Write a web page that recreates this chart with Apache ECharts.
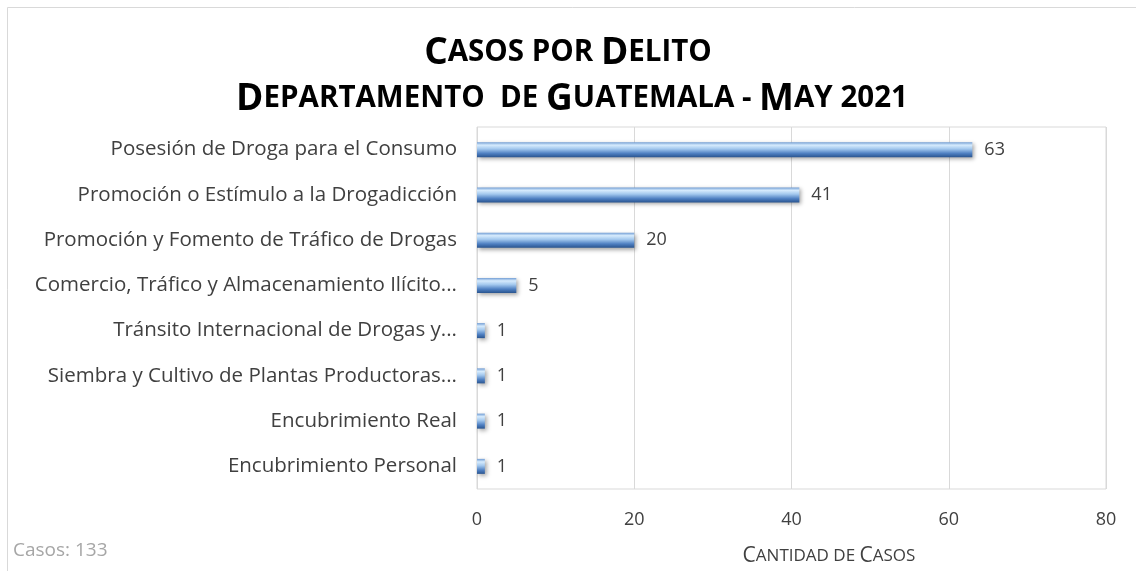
<!DOCTYPE html>
<html><head><meta charset="utf-8">
<script src="https://cdn.jsdelivr.net/npm/echarts@6/dist/echarts.min.js"></script>
<style>html,body{margin:0;padding:0;background:#fff}#c{width:1136px;height:571px}</style>
</head><body><div id="c"></div>
<script>
const categories = ["Encubrimiento Personal","Encubrimiento Real","Siembra y Cultivo de Plantas Productoras...","Tránsito Internacional de Drogas y...","Comercio, Tráfico y Almacenamiento Ilícito...","Promoción y Fomento de Tráfico de Drogas","Promoción o Estímulo a la Drogadicción","Posesión de Droga para el Consumo"];
const values = [1,1,1,1,5,20,41,63];
const xTicks = [0,20,40,60,80];
const font = "'Open Sans', 'Noto Sans', sans-serif";
const titleRich = {b:{fontSize:37,fontWeight:'bold',fontFamily:font,fill:'#000'},s:{fontSize:29.5,fontWeight:'bold',fontFamily:font,fill:'#000'}};
const chart = echarts.init(document.getElementById('c'));
chart.setOption({
  animation:false,
  backgroundColor:'#fff',
  graphic:[
    {type:'rect',shape:{x:7.5,y:7.5,width:1140,height:600},style:{fill:'none',stroke:'#d9d9d9',lineWidth:1}},
    {type:'text',x:568,y:53,style:{textAlign:'center',textVerticalAlign:'middle',
      text:'{b|C}{s|ASOS POR }{b|D}{s|ELITO}',rich:titleRich}},
    {type:'text',x:572,y:99,style:{textAlign:'center',textVerticalAlign:'middle',
      text:'{b|D}{s|EPARTAMENTO  DE }{b|G}{s|UATEMALA - }{b|M}{s|AY 2021}',rich:titleRich}},
    {type:'text',x:13,y:551,style:{textVerticalAlign:'middle',text:'Casos: 133',fontSize:19,fontFamily:font,fill:'#a6a6a6'}},
    {type:'text',x:829,y:556,style:{textAlign:'center',textVerticalAlign:'middle',
      text:'{b|C}{s|ANTIDAD DE }{b|C}{s|ASOS}',
      rich:{b:{fontSize:21,fontFamily:font,fill:'#404040'},s:{fontSize:17,fontFamily:font,fill:'#404040'}}}}
  ],
  grid:{left:477,right:30,top:127,bottom:82,containLabel:false,show:true,borderColor:'#d9d9d9',borderWidth:1},
  xAxis:{type:'value',min:0,max:80,interval:20,
    axisLine:{show:false},axisTick:{show:false},
    splitLine:{lineStyle:{color:'#d9d9d9',width:1}},
    axisLabel:{fontSize:18,fontFamily:font,color:'#404040',margin:22,formatter:v=>xTicks.includes(v)?String(v):''}},
  yAxis:{type:'category',data:categories,
    axisLine:{show:false},axisTick:{show:false},
    axisLabel:{fontSize:20.5,fontFamily:font,color:'#404040',margin:20}},
  series:[{type:'bar',data:values,barWidth:15,
    itemStyle:{
      color:new echarts.graphic.LinearGradient(0,0,0,1,[
        {offset:0,color:'#6f9bd3'},{offset:0.2,color:'#d6ebfd'},{offset:0.45,color:'#a3c8ee'},
        {offset:0.75,color:'#4f80c2'},{offset:1,color:'#2a5590'}]),
      shadowColor:'rgba(0,0,0,0.35)',shadowBlur:4,shadowOffsetX:2,shadowOffsetY:2},
    label:{show:true,position:'right',distance:12,fontSize:18,fontFamily:font,color:'#404040'}}]
});
</script></body></html>
